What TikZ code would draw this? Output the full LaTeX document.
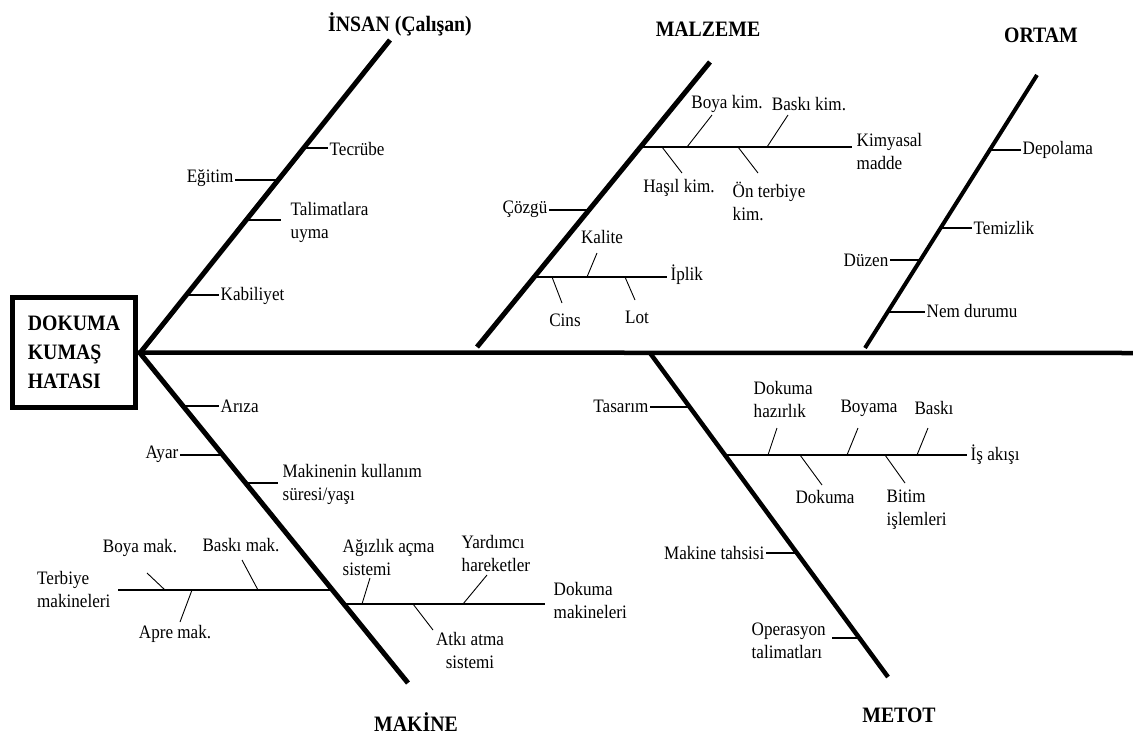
\documentclass[tikz,border=0pt]{standalone}
\usepackage{fontspec}
\setmainfont{Liberation Serif}[FakeStretch=0.9]
\begin{document}
\begin{tikzpicture}[x=1pt,y=-1pt,
  bone/.style={line width=5pt},
  spine/.style={line width=4.5pt},
  branch/.style={line width=1.4pt},
  twig/.style={line width=0.9pt},
  lab/.style={font=\fontsize{19}{23}\selectfont, inner sep=1.5pt},
  lab2/.style={lab, align=left},
  title/.style={font=\bfseries\fontsize{22}{26}\selectfont, inner sep=1pt}]
\useasboundingbox (0,0) rectangle (1133,734);

% effect box and spine
\node[draw, line width=5pt, minimum width=123pt, minimum height=110pt, inner sep=0pt,
      align=left, font=\bfseries\fontsize{22}{29}\selectfont] (effect) at (74,352.5)
      {DOKUMA\\KUMAŞ\\HATASI};
\coordinate (head) at (140,353);
\coordinate (tail) at (1133,353);
\draw[spine] (effect.east) -- (tail);

% ---------------- İNSAN ----------------
\coordinate (insanTop) at (390,40);
\draw[bone] (head) -- (insanTop);
\node[title] (insan) at (400,24) {İNSAN (Çalışan)};

\node[lab, anchor=west] (tecrube) at (328,149) {Tecrübe};
\coordinate (tecrubeB) at (304,148);
\draw[branch] (tecrubeB) -- (tecrube.west |- tecrubeB);

\node[lab, anchor=east] (egitim) at (235,178) {Eğitim};
\coordinate (egitimB) at (278,180);
\draw[branch] (egitimB) -- (egitim.east |- egitimB);

\node[lab2, anchor=west] (talimat) at (289,222) {Talimatlara\\uyma};
\coordinate (talimatB) at (246,220);
\coordinate (talimatE) at (281,220);
\draw[branch] (talimatB) -- (talimatE);

\node[lab, anchor=west] (kabiliyet) at (219,296) {Kabiliyet};
\coordinate (kabiliyetB) at (186,295);
\draw[branch] (kabiliyetB) -- (kabiliyet.west |- kabiliyetB);

% ---------------- MALZEME ----------------
\coordinate (malzBot) at (477,347);
\coordinate (malzTop) at (710,62);
\draw[bone] (malzBot) -- (malzTop);
\node[title] (malzeme) at (708,29) {MALZEME};

% Kimyasal madde
\node[lab2, anchor=west] (kimyasal) at (855,151) {Kimyasal\\madde};
\coordinate (kimB) at (641,147);
\coordinate (kimE) at (852,147);
\draw[branch] (kimB) -- (kimE);
\node[lab] (boyakim) at (727,104) {Boya kim.};
\coordinate (boyakimA) at (687,147);
\coordinate (boyakimB) at (712,115);
\draw[twig] (boyakimA) -- (boyakimB);
\node[lab] (baskikim) at (809,104) {Baskı kim.};
\coordinate (baskikimA) at (767,147);
\coordinate (baskikimB) at (788,115);
\draw[twig] (baskikimA) -- (baskikimB);
\node[lab] (hasil) at (679,188) {Haşıl kim.};
\coordinate (hasilA) at (662,147);
\coordinate (hasilB) at (682,173);
\draw[twig] (hasilA) -- (hasilB);
\node[lab2, anchor=west] (onterbiye) at (731,201) {Ön terbiye\\kim.};
\coordinate (onterA) at (738,147);
\coordinate (onterB) at (758,173);
\draw[twig] (onterA) -- (onterB);

% Çözgü
\node[lab, anchor=east] (cozgu) at (549,209) {Çözgü};
\coordinate (cozguB) at (589,210);
\draw[branch] (cozguB) -- (cozgu.east |- cozguB);

% İplik
\node[lab, anchor=west] (iplik) at (669,275) {İplik};
\coordinate (iplikB) at (535,277);
\coordinate (iplikE) at (667,277);
\draw[branch] (iplikB) -- (iplikE);
\node[lab] (kalite) at (602,237) {Kalite};
\coordinate (kaliteA) at (587,277);
\coordinate (kaliteB) at (597,253);
\draw[twig] (kaliteA) -- (kaliteB);
\node[lab] (cins) at (565,320) {Cins};
\coordinate (cinsA) at (552,277);
\coordinate (cinsB) at (562,303);
\draw[twig] (cinsA) -- (cinsB);
\node[lab] (lot) at (637,317) {Lot};
\coordinate (lotA) at (625,277);
\coordinate (lotB) at (635,300);
\draw[twig] (lotA) -- (lotB);

% ---------------- ORTAM ----------------
\coordinate (ortamBot) at (865,348);
\coordinate (ortamTop) at (1037,75);
\draw[bone, line width=4pt] (ortamBot) -- (ortamTop);
\node[title] (ortam) at (1041,35) {ORTAM};

\node[lab, anchor=west] (depolama) at (1021,150) {Depolama};
\coordinate (depolamaB) at (990,150);
\draw[branch] (depolamaB) -- (depolama.west |- depolamaB);
\node[lab, anchor=west] (temizlik) at (972,228) {Temizlik};
\coordinate (temizlikB) at (941,228);
\draw[branch] (temizlikB) -- (temizlik.west |- temizlikB);
\node[lab, anchor=east] (duzen) at (890,260) {Düzen};
\coordinate (duzenB) at (920,260);
\draw[branch] (duzenB) -- (duzen.east |- duzenB);
\node[lab, anchor=west] (nem) at (925,311) {Nem durumu};
\coordinate (nemB) at (888,312);
\draw[branch] (nemB) -- (nem.west |- nemB);

% ---------------- MAKİNE ----------------
\coordinate (makBot) at (408,683);
\draw[bone] (head) -- (makBot);
\node[title] (makine) at (416,722) {MAKİNE};

\node[lab, anchor=west] (ariza) at (219,406) {Arıza};
\coordinate (arizaB) at (183,406);
\draw[branch] (arizaB) -- (ariza.west |- arizaB);
\node[lab, anchor=east] (ayar) at (180,454) {Ayar};
\coordinate (ayarB) at (222,455);
\draw[branch] (ayarB) -- (ayar.east |- ayarB);
\node[lab2, anchor=west] (kullanim) at (281,484) {Makinenin kullanım\\süresi/yaşı};
\coordinate (kullanimB) at (246,483);
\coordinate (kullanimE) at (278,483);
\draw[branch] (kullanimB) -- (kullanimE);

% Terbiye makineleri
\node[lab2, anchor=east] (terbiye) at (112,589) {Terbiye\\makineleri};
\coordinate (terbiyeB) at (332,590);
\coordinate (terbiyeE) at (118,590);
\draw[branch] (terbiyeB) -- (terbiyeE);
\node[lab] (boyamak) at (140,548) {Boya mak.};
\coordinate (boyamakA) at (165,590);
\coordinate (boyamakB) at (147,573);
\draw[twig] (boyamakA) -- (boyamakB);
\node[lab] (baskimak) at (241,545) {Baskı mak.};
\coordinate (baskimakA) at (258,590);
\coordinate (baskimakB) at (242,560);
\draw[twig] (baskimakA) -- (baskimakB);
\node[lab] (apre) at (175,634) {Apre mak.};
\coordinate (apreA) at (192,590);
\coordinate (apreB) at (180,622);
\draw[twig] (apreA) -- (apreB);

% Dokuma makineleri
\node[lab2, anchor=west] (dokmak) at (552,600) {Dokuma\\makineleri};
\coordinate (dokmakB) at (344,604);
\coordinate (dokmakE) at (545,604);
\draw[branch] (dokmakB) -- (dokmakE);
\node[lab2, anchor=west] (agizlik) at (341,557) {Ağızlık açma\\sistemi};
\coordinate (agizlikA) at (362,604);
\coordinate (agizlikB) at (370,578);
\draw[twig] (agizlikA) -- (agizlikB);
\node[lab2, anchor=west] (yardimci) at (460,553) {Yardımcı\\hareketler};
\coordinate (yardimciA) at (463,604);
\coordinate (yardimciB) at (487,575);
\draw[twig] (yardimciA) -- (yardimciB);
\node[lab, align=center] (atki) at (470,650) {Atkı atma\\sistemi};
\coordinate (atkiA) at (413,604);
\coordinate (atkiB) at (433,630);
\draw[twig] (atkiA) -- (atkiB);

% ---------------- METOT ----------------
\coordinate (metotTop) at (650,353);
\coordinate (metotBot) at (888,677);
\draw[bone, line width=4.5pt] (metotTop) -- (metotBot);
\node[title] (metot) at (899,715) {METOT};

\node[lab, anchor=east] (tasarim) at (650,406) {Tasarım};
\coordinate (tasarimB) at (690,407);
\draw[branch] (tasarimB) -- (tasarim.east |- tasarimB);

% İş akışı
\node[lab, anchor=west] (isakisi) at (969,455) {İş akışı};
\coordinate (isB) at (725,455);
\coordinate (isE) at (967,455);
\draw[branch] (isB) -- (isE);
\node[lab2, anchor=west] (hazirlik) at (752,399) {Dokuma\\hazırlık};
\coordinate (hazirlikA) at (768,455);
\coordinate (hazirlikB) at (777,428);
\draw[twig] (hazirlikA) -- (hazirlikB);
\node[lab] (boyama) at (869,408) {Boyama};
\coordinate (boyamaA) at (847,455);
\coordinate (boyamaB) at (858,428);
\draw[twig] (boyamaA) -- (boyamaB);
\node[lab] (baski) at (934,408) {Baskı};
\coordinate (baskiA) at (917,455);
\coordinate (baskiB) at (928,428);
\draw[twig] (baskiA) -- (baskiB);
\node[lab] (dokuma) at (825,497) {Dokuma};
\coordinate (dokumaA) at (800,455);
\coordinate (dokumaB) at (822,485);
\draw[twig] (dokumaA) -- (dokumaB);
\node[lab2, anchor=west] (bitim) at (885,510) {Bitim\\işlemleri};
\coordinate (bitimA) at (885,455);
\coordinate (bitimB) at (905,483);
\draw[twig] (bitimA) -- (bitimB);

\node[lab, anchor=east] (tahsis) at (766,553) {Makine tahsisi};
\coordinate (tahsisB) at (797,553);
\draw[branch] (tahsisB) -- (tahsis.east |- tahsisB);
\node[lab2, anchor=west] (operasyon) at (750,641) {Operasyon\\talimatları};
\coordinate (operasyonB) at (859,638);
\coordinate (operasyonE) at (832,638);
\draw[branch] (operasyonB) -- (operasyonE);
\end{tikzpicture}
\end{document}
